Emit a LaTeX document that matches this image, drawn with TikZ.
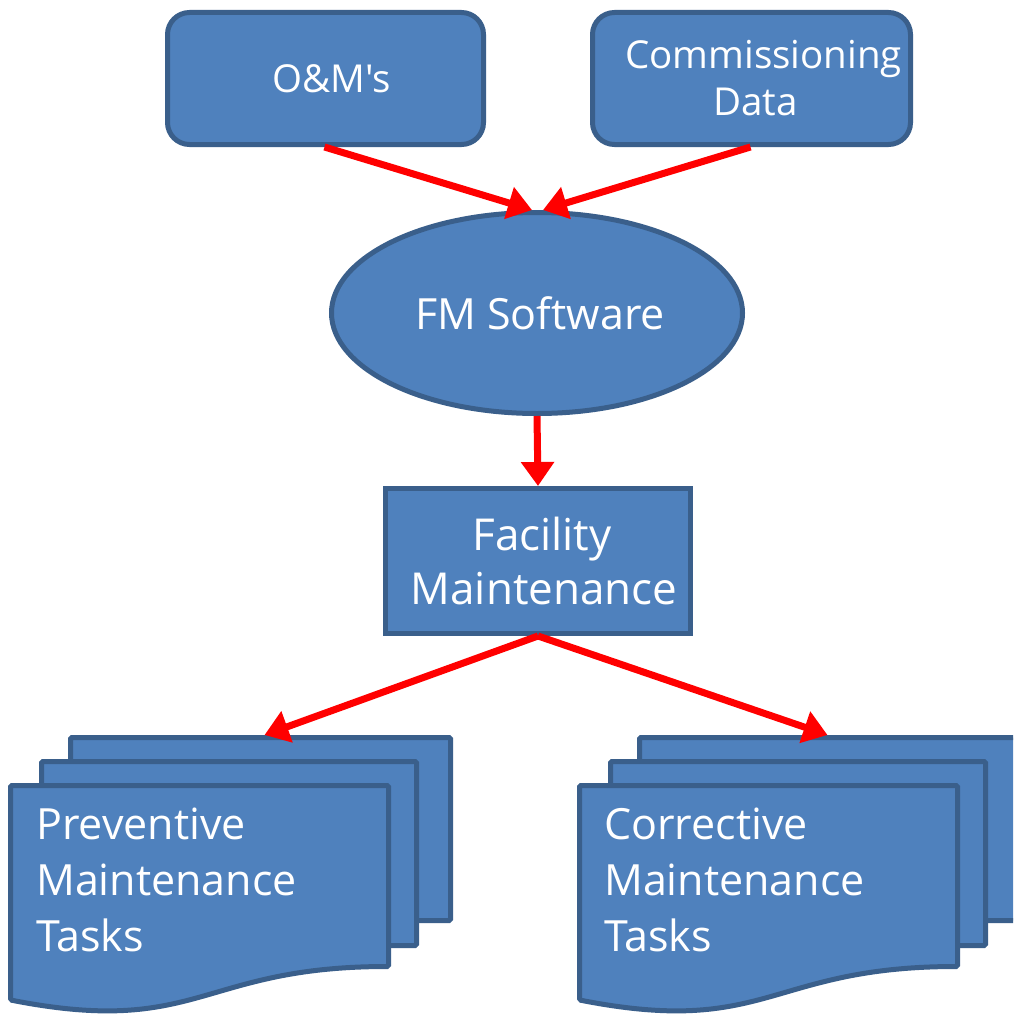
\documentclass[tikz,border=0pt]{standalone}
\usepackage{fontspec}
\setmainfont{Open Sans}[Ligatures=TeXOff]
\usetikzlibrary{shapes.geometric,arrows.meta}
\definecolor{boxfill}{HTML}{4F81BD}
\definecolor{boxline}{HTML}{3A5F8B}
\tikzset{
  shapebox/.style={draw=boxline, fill=boxfill, line width=5pt, text=white,
    font=\fontsize{38.5}{47}\selectfont, align=center, inner sep=0pt},
  link/.style={draw=red, line width=7pt, -{Triangle[length=24pt,width=32pt]}},
  pagebox/.style={draw=boxline, fill=boxfill, line width=5pt, rectangle,
    inner sep=0pt, rounded corners=1.5pt},
  doctext/.style={text=white, font=\fontsize{43}{56}\selectfont, align=left,
    inner sep=0pt, anchor=north west},
}
\begin{document}
\begin{tikzpicture}[x=1pt,y=-1pt]
\useasboundingbox (0,0) rectangle (1013,1014);
\clip (0,0) rectangle (1013,1014);
\fill[white] (0,0) rectangle (1013,1014);

% top boxes
\node[shapebox, rounded corners=22pt, minimum width=316pt, minimum height=132pt] (om) at (325.5,78.5) {\hspace*{12pt}O\&M's};
\node[shapebox, rounded corners=22pt, minimum width=318pt, minimum height=132pt] (cd) at (751.5,78.5) {\hspace*{24pt}Commissioning\\\hspace*{8pt}Data};

% ellipse
\node[shapebox, ellipse, minimum width=411pt, minimum height=201pt,
  font=\fontsize{43}{50}\selectfont] (fm) at (537,313) {\hspace*{6pt}FM Software};

% facility maintenance
\node[shapebox, rectangle, minimum width=305pt, minimum height=145pt,
  font=\fontsize{44}{54}\selectfont] (fac) at (538,561) {\hspace*{8pt}Facility\\\hspace*{12pt}Maintenance};

% left multidocument
\node[pagebox, minimum width=380pt, minimum height=183pt] (lb) at (260.5,829) {};
\node[pagebox, minimum width=375pt, minimum height=184pt] (lm) at (229,853.5) {};
\draw[pagebox] (10.5,785.5) -- (388.5,785.5) -- (388.5,966.5)
  .. controls (199.5,966.5) and (199.5,1037) .. (10.5,1000) -- cycle;
\node[doctext] (pt) at (36,808) {Preventive\\Maintenance\\Tasks};

% right multidocument
\node[pagebox, minimum width=380pt, minimum height=183pt] (rb) at (829.5,829) {};
\node[pagebox, minimum width=375pt, minimum height=184pt] (rm) at (798,853.5) {};
\draw[pagebox] (579.5,785.5) -- (957.5,785.5) -- (957.5,966.5)
  .. controls (768.5,966.5) and (768.5,1037) .. (579.5,1000) -- cycle;
\node[doctext] (ct) at (604,808) {Corrective\\Maintenance\\Tasks};

% connectors
\draw[link] ([xshift=-1pt]om.south) -- ([xshift=-5pt]fm.north);
\draw[link] ([xshift=-1pt]cd.south) -- ([xshift=6pt]fm.north);
\draw[link] (fm.south) -- (fac.north);
\draw[link] (fac.south) -- ([xshift=4pt]lb.north);
\draw[link] (fac.south) -- ([xshift=-2pt]rb.north);
\end{tikzpicture}
\end{document}
